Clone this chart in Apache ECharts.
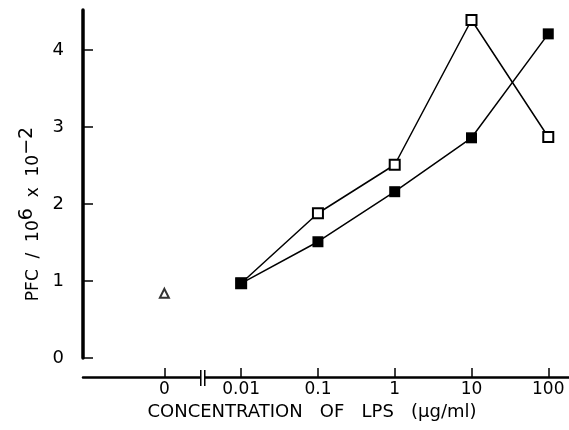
<!DOCTYPE html>
<html><head><meta charset="utf-8">
<script src="https://cdn.jsdelivr.net/npm/echarts@6/dist/echarts.min.js"></script>
<style>html,body{margin:0;padding:0;background:#fff}#c{width:569px;height:430px}</style>
</head><body><div id="c"></div>
<script>
// Category positions on the x axis (index of tick) and their labels
const xLabels = ['0', '0.01', '0.1', '1', '10', '100'];
const xPositions = [-1, 0, 1, 2, 3, 4];
// Filled squares
const filledValues = [0.97, 1.51, 2.16, 2.86, 4.21];
// Open squares (start from same 0.01 point)
const openValues = [0.97, 1.88, 2.51, 4.39, 2.87];
// Control (LPS = 0)
const controlValue = 0.84;
const yTicks = [0, 1, 2, 3, 4];

const lpsPos = xPositions.slice(1);
const filledData = lpsPos.map((p, i) => [p, filledValues[i]]);
const openData = lpsPos.map((p, i) => [p, openValues[i]]);
const labelMap = {};
xPositions.forEach((p, i) => labelMap[p] = xLabels[i]);

const FONT = 'DejaVu Sans';
const chart = echarts.init(document.getElementById('c'), null, {renderer: 'canvas'});
chart.setOption({
  animation: false,
  backgroundColor: '#fff',
  grid: {left: 83, right: 0, top: 10, bottom: 72, containLabel: false, outerBoundsMode: 'none'},
  xAxis: {
    type: 'value', min: -2.06, max: 4.27, offset: 19,
    axisLine: {show: true, onZero: false, lineStyle: {color: '#000', width: 2.5}},
    axisTick: {show: true, inside: true, length: 9, lineStyle: {color: '#000', width: 1.5}, customValues: xPositions},
    axisLabel: {show: true, color: '#000', fontFamily: FONT, fontSize: 17, margin: 4, customValues: xPositions,
      formatter: v => labelMap[v] !== undefined ? labelMap[v] : ''},
    splitLine: {show: false},
    name: 'CONCENTRATION   OF   LPS   (µg/ml)', nameLocation: 'middle', nameGap: 23,
    nameTextStyle: {color: '#000', fontFamily: FONT, fontSize: 18, padding: [0, 28, 0, 0]}
  },
  yAxis: {
    type: 'value', min: 0, max: 4.52, interval: 1,
    axisLine: {show: true, onZero: false, lineStyle: {color: '#000', width: 3.5}},
    axisTick: {show: true, inside: true, length: 10, lineStyle: {color: '#000', width: 1.5}, customValues: yTicks},
    axisLabel: {show: true, color: '#000', fontFamily: FONT, fontSize: 18, margin: 19, customValues: yTicks},
    splitLine: {show: false},
    name: 'PFC  /  10{sup|6}  x  10{sup|−2}', nameLocation: 'middle', nameGap: 31, nameRotate: 90,
    nameTextStyle: {color: '#000', fontFamily: FONT, fontSize: 17, padding: [0, 60, 0, 0],
      rich: {sup: {fontFamily: FONT, fontSize: 19, verticalAlign: 'top', padding: [0, 0, 12, 0]}}}
  },
  series: [
    {type: 'line', data: openData, symbol: 'rect', symbolSize: 10,
      lineStyle: {color: '#000', width: 1.5},
      itemStyle: {color: '#fff', borderColor: '#000', borderWidth: 2}, z: 2},
    {type: 'line', data: filledData, symbol: 'rect', symbolSize: 11,
      lineStyle: {color: '#000', width: 1.5},
      itemStyle: {color: '#000', borderColor: '#000', borderWidth: 0}, z: 3},
    {type: 'scatter', data: [[xPositions[0], controlValue]], symbol: 'triangle', symbolSize: 9,
      itemStyle: {color: '#fff', borderColor: '#000', borderWidth: 2}}
  ]
});

// axis break mark between 0 and 0.01
const bx = chart.convertToPixel({xAxisIndex: 0}, -0.5);
const rect = chart.getModel().getComponent('grid').coordinateSystem.getRect();
const ay = rect.y + rect.height + 19;
chart.setOption({graphic: [
  {type: 'rect', shape: {x: bx - 2, y: ay - 3, width: 4, height: 6}, style: {fill: '#fff'}, z: 100},
  {type: 'line', shape: {x1: bx - 2, y1: ay - 7, x2: bx - 2, y2: ay + 9}, style: {stroke: '#000', lineWidth: 1.5}, z: 101},
  {type: 'line', shape: {x1: bx + 2, y1: ay - 7, x2: bx + 2, y2: ay + 9}, style: {stroke: '#000', lineWidth: 1.5}, z: 101}
]});
</script></body></html>
